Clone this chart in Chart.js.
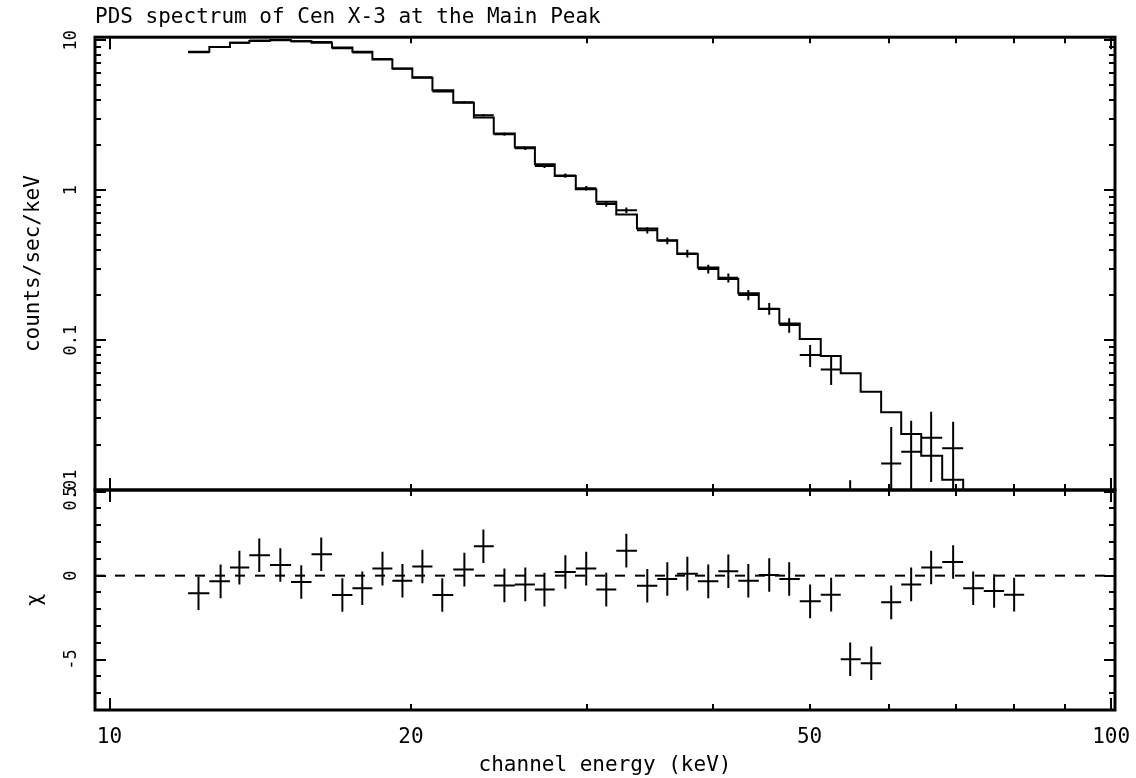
<!DOCTYPE html>
<html>
<head>
<meta charset="utf-8">
<script src="https://cdn.jsdelivr.net/npm/chart.js@4.4.1/dist/chart.umd.min.js"></script>
<style>
html, body { margin: 0; padding: 0; background: #fff; }
#wrap { position: relative; width: 1136px; height: 778px; overflow: hidden; background: #fff; }
#topChart { position: absolute; left: 0; top: 0; }
#resChart { position: absolute; left: 0; top: 450px; }
</style>
</head>
<body>
<div id="wrap">
  <canvas id="topChart" width="1136" height="530"></canvas>
  <canvas id="resChart" width="1136" height="328"></canvas>
</div>
<script>
// ---------- texts ----------
const chartTitle = 'PDS spectrum of Cen X-3 at the Main Peak';
const xAxisTitle = 'channel energy (keV)';
const yTopTitle = 'counts/sec/keV';
const yResTitle = 'χ';

// ---------- axis ranges and ticks ----------
const xRange = [9.672, 100.9];
const yTopRange = [0.01, 10.47];
const yResRange = [-8, 5.1];
const xMajorTicks = [10, 100];
const xMinorTicks = [20, 30, 40, 50, 60, 70, 80, 90];
const xTickLabels = { 10: '10', 20: '20', 50: '50', 100: '100' };
const yTopMajorTicks = [0.01, 0.1, 1, 10];
const yTopMinorTicks = [0.02, 0.03, 0.04, 0.05, 0.06, 0.07, 0.08, 0.09,
                        0.2, 0.3, 0.4, 0.5, 0.6, 0.7, 0.8, 0.9,
                        2, 3, 4, 5, 6, 7, 8, 9];
const yTopTickLabels = { 0.01: '0.01', 0.1: '0.1', 1: '1', 10: '10' };
const yResMajorTicks = [-5, 0, 5];
const yResMinorTicks = [-8, -7, -6, -4, -3, -2, -1, 1, 2, 3, 4];
const yResTickLabels = { '-5': '-5', '0': '0', '5': '5' };

// ---------- data (keV) ----------
const binEdges = [11.98, 12.58, 13.19, 13.79, 14.46, 15.18, 15.91, 16.68, 17.48, 18.30,
                  19.16, 20.06, 21.01, 22.04, 23.11, 24.19, 25.39, 26.59, 27.83, 29.21,
                  30.62, 32.06, 33.62, 35.23, 36.88, 38.67, 40.54, 42.44, 44.49, 46.64,
                  48.88, 51.30, 53.71, 56.23, 58.94, 61.72, 64.63, 67.82, 71.17, 74.62,
                  78.19, 81.89];
const binEnergy = [12.27, 12.91, 13.48, 14.11, 14.81, 15.54, 16.27, 17.08, 17.88, 18.73,
                   19.61, 20.53, 21.49, 22.61, 23.62, 24.79, 26.01, 27.18, 28.52, 29.92,
                   31.33, 32.81, 34.43, 36.05, 37.75, 39.61, 41.48, 43.43, 45.57, 47.71,
                   50.06, 52.54, 54.89, 57.62, 60.32, 63.15, 66.12, 69.55, 72.83, 76.42,
                   80.02];
// model (counts/sec/keV)
const modelRate = [8.36, 9.02, 9.60, 9.89, 10.0, 9.85, 9.60, 8.94, 8.36, 7.44,
                   6.48, 5.61, 4.64, 3.82, 3.05, 2.39, 1.93, 1.49, 1.24, 1.015,
                   0.836, 0.689, 0.555, 0.464, 0.375, 0.305, 0.255, 0.205, 0.161, 0.129,
                   0.1016, 0.0782, 0.060, 0.0453, 0.033, 0.0236, 0.0169, 0.0117, 0.0082, 0.0058,
                   0.0041];
// observed (counts/sec/keV) and 1-sigma errors
const dataRate = [8.31, 9.00, 9.63, 9.97, 10.04, 9.82, 9.71, 8.84, 8.29, 7.48,
                  6.45, 5.66, 4.55, 3.85, 3.16, 2.36, 1.90, 1.45, 1.25, 1.03,
                  0.809, 0.735, 0.539, 0.459, 0.378, 0.298, 0.260, 0.200, 0.162, 0.126,
                  0.0794, 0.0637, -0.0006, -0.0175, 0.015, 0.018, 0.0223, 0.019, 0.0037, 0.0011,
                  -0.0010];
const dataErr = [0.050, 0.054, 0.058, 0.069, 0.070, 0.079, 0.086, 0.089, 0.092, 0.089,
                 0.084, 0.084, 0.079, 0.073, 0.064, 0.055, 0.050, 0.043, 0.040, 0.036,
                 0.033, 0.030, 0.026, 0.024, 0.022, 0.020, 0.018, 0.016, 0.0145, 0.014,
                 0.0133, 0.0135, 0.0122, 0.0122, 0.0113, 0.011, 0.011, 0.0095, 0.0060, 0.0052,
                 0.0045];
// residuals (chi) with unit errors
const chiValues = [-1.05, -0.34, 0.48, 1.21, 0.63, -0.38, 1.27, -1.15, -0.75, 0.42,
                   -0.30, 0.54, -1.15, 0.36, 1.75, -0.58, -0.52, -0.83, 0.22, 0.42,
                   -0.83, 1.49, -0.60, -0.20, 0.12, -0.34, 0.26, -0.30, 0.04, -0.20,
                   -1.53, -1.13, -4.98, -5.22, -1.59, -0.52, 0.49, 0.81, -0.75, -0.91,
                   -1.13];
const chiErr = 1;

// ---------- helpers building line datasets ----------
function stepPoints(edges, vals) {
  const pts = [];
  vals.forEach((v, i) => { pts.push({ x: edges[i], y: v }, { x: edges[i + 1], y: v }); });
  return pts;
}
function crossPoints(centers, edges, vals, errs, floor) {
  const pts = [];
  vals.forEach((v, i) => {
    const e = Array.isArray(errs) ? errs[i] : errs;
    if (v > floor) {
      pts.push({ x: edges[i], y: v }, { x: edges[i + 1], y: v }, { x: edges[i + 1], y: null });
    }
    const hi = v + e, lo = Math.max(v - e, floor);
    if (hi > floor) {
      pts.push({ x: centers[i], y: lo }, { x: centers[i], y: hi }, { x: centers[i], y: null });
    }
  });
  return pts;
}

// ---------- plugin: PGPLOT style box with inward ticks ----------
const pgBox = {
  id: 'pgBox',
  afterDatasetsDraw(chart, args, o) {
    const { ctx, chartArea: a } = chart;
    const xs = chart.scales.x, ys = chart.scales.y;
    ctx.save();
    ctx.strokeStyle = '#000';
    ctx.lineCap = 'butt';
    ctx.lineWidth = 2;
    ctx.beginPath();
    const seg = (x1, y1, x2, y2) => { ctx.moveTo(x1, y1); ctx.lineTo(x2, y2); };
    const xt = (vals, len) => vals.forEach(v => {
      const p = Math.round(xs.getPixelForValue(v));
      seg(p, a.bottom, p, a.bottom - len); seg(p, a.top, p, a.top + len);
    });
    const yt = (vals, len) => vals.forEach(v => {
      const p = Math.round(ys.getPixelForValue(v));
      seg(a.left, p, a.left + len, p); seg(a.right, p, a.right - len, p);
    });
    xt(o.xMajor, o.xMajorLen); xt(o.xMinor, o.xMinorLen);
    yt(o.yMajor, o.yMajorLen); yt(o.yMinor, o.yMinorLen);
    ctx.stroke();
    ctx.lineWidth = 3;
    ctx.strokeRect(a.left, a.top, a.right - a.left, a.bottom - a.top);
    ctx.restore();
  }
};

Chart.defaults.font.family = '"DejaVu Sans Mono", monospace';
Chart.defaults.color = '#000';

const lineStyle = { borderColor: '#000', borderWidth: 2, pointRadius: 0, fill: false, tension: 0, spanGaps: false, borderCapStyle: 'butt' };

function tickSetter(values) {
  return (scale) => { scale.ticks = values.slice().sort((p, q) => p - q).map(v => ({ value: v })); };
}

// ---------- top panel ----------
new Chart(document.getElementById('topChart'), {
  type: 'line',
  data: {
    datasets: [
      Object.assign({ label: 'model', data: stepPoints(binEdges, modelRate) }, lineStyle),
      Object.assign({ label: 'data', data: crossPoints(binEnergy, binEdges, dataRate, dataErr, 1e-4) }, lineStyle)
    ]
  },
  options: {
    responsive: false,
    animation: false,
    layout: { padding: { left: 0, right: 21, top: 0, bottom: 40 } },
    plugins: {
      legend: { display: false },
      tooltip: { enabled: false },
      title: {
        display: true, text: chartTitle, align: 'start', fullSize: false,
        font: { size: 21, weight: 'normal' }, padding: { top: 5, bottom: 7 }, color: '#000'
      },
      pgBox: { xMajor: xMajorTicks, xMinor: xMinorTicks, yMajor: yTopMajorTicks, yMinor: yTopMinorTicks,
               xMajorLen: 12, xMinorLen: 6, yMajorLen: 11, yMinorLen: 6 }
    },
    scales: {
      x: { type: 'logarithmic', min: xRange[0], max: xRange[1], display: false },
      y: {
        type: 'logarithmic', min: yTopRange[0], max: yTopRange[1],
        grid: { display: false, drawTicks: false }, border: { display: false },
        afterBuildTicks: tickSetter(yTopMajorTicks.concat(yTopMinorTicks)),
        afterFit: (s) => { s.width = 95; },
        ticks: {
          autoSkip: false, minRotation: 90, maxRotation: 90, crossAlign: 'center', padding: 2.5,
          font: { size: 17 }, color: '#000',
          callback: (v) => (yTopTickLabels[v] !== undefined ? yTopTickLabels[v] : '')
        },
        title: { display: true, text: yTopTitle, font: { size: 21 }, padding: { top: 21, bottom: 0 }, color: '#000' }
      }
    }
  },
  plugins: [pgBox]
});

// ---------- residual panel ----------
new Chart(document.getElementById('resChart'), {
  type: 'line',
  data: {
    datasets: [
      Object.assign({ label: 'zero', data: [{ x: xRange[0], y: 0 }, { x: xRange[1], y: 0 }] }, lineStyle, { borderDash: [10, 10] }),
      Object.assign({ label: 'chi', data: crossPoints(binEnergy, binEdges, chiValues, chiErr, -Infinity) }, lineStyle)
    ]
  },
  options: {
    responsive: false,
    animation: false,
    layout: { padding: { left: 0, right: 21, top: 40, bottom: 0 } },
    plugins: {
      legend: { display: false },
      tooltip: { enabled: false },
      pgBox: { xMajor: xMajorTicks, xMinor: xMinorTicks, yMajor: yResMajorTicks, yMinor: yResMinorTicks,
               xMajorLen: 12, xMinorLen: 6, yMajorLen: 11, yMinorLen: 6 }
    },
    scales: {
      x: {
        type: 'logarithmic', min: xRange[0], max: xRange[1],
        grid: { display: false, drawTicks: false }, border: { display: false },
        afterBuildTicks: tickSetter(xMajorTicks.concat(xMinorTicks)),
        afterFit: (s) => { s.height = 68; s.paddingLeft = 0; s.paddingRight = 0; },
        ticks: {
          autoSkip: false, minRotation: 0, maxRotation: 0, padding: 15,
          font: { size: 21 }, color: '#000',
          callback: (v) => (xTickLabels[v] !== undefined ? xTickLabels[v] : '')
        },
        title: { display: true, text: xAxisTitle, font: { size: 21 }, padding: { top: 0, bottom: 0 }, color: '#000' }
      },
      y: {
        type: 'linear', min: yResRange[0], max: yResRange[1],
        grid: { display: false, drawTicks: false }, border: { display: false },
        afterBuildTicks: tickSetter(yResMajorTicks.concat(yResMinorTicks)),
        afterFit: (s) => { s.width = 95; },
        ticks: {
          autoSkip: false, minRotation: 90, maxRotation: 90, crossAlign: 'center', padding: 12.8,
          font: { size: 17 }, color: '#000',
          callback: (v) => (yResTickLabels[String(v)] !== undefined ? yResTickLabels[String(v)] : '')
        },
        title: { display: true, text: yResTitle, font: { size: 21 }, padding: { top: 23, bottom: 0 }, color: '#000' }
      }
    }
  },
  plugins: [pgBox]
});
</script>
</body>
</html>
